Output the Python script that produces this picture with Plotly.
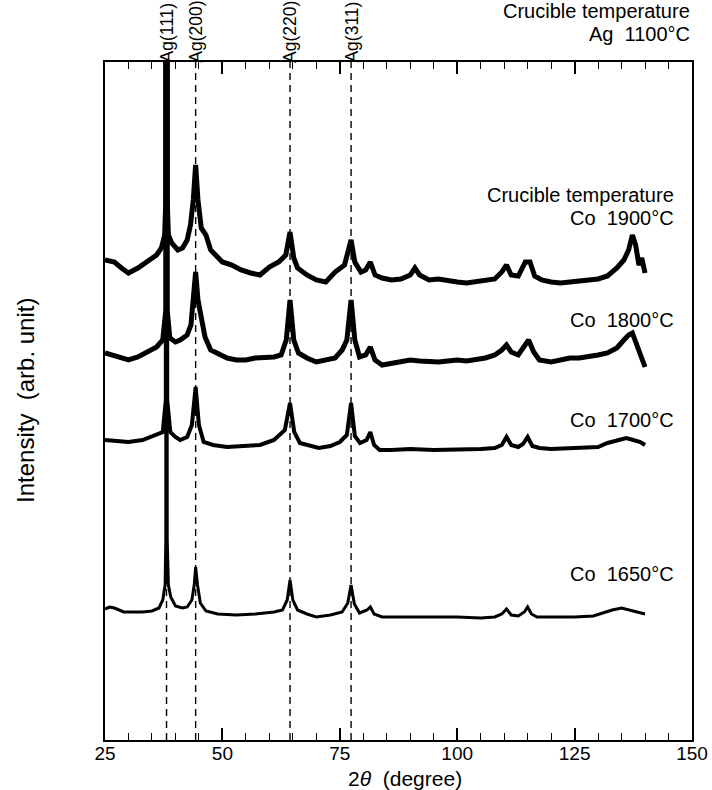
import plotly.graph_objects as go

# ---------------- data (2theta in degree, intensity in arb. unit as plotted) ----------------
x_1900 = [25, 27, 28.5, 30, 32, 34, 36, 37, 37.7, 37.95, 38.1, 38.25, 38.5, 39.2, 40.5, 41.5, 42.5, 43.2, 43.8,
          44.3, 44.8, 45.5, 46.5, 47.5, 49, 50, 52, 54, 56, 58, 60, 62, 63.5, 64.4, 65.2, 66, 68, 70, 72, 74,
          76, 77.4, 78.2, 79.5, 80.5, 81.5, 82.5, 84, 86, 88, 90, 91, 92, 94, 96, 98, 100, 102, 104, 106, 108,
          109.5, 110.5, 111.5, 113, 114.5, 115.5, 116.5, 118, 120, 122, 124, 126, 128, 130, 132, 134, 135.5,
          136.5, 137.3, 138, 138.7, 139.3, 140]
i_1900 = [480, 478, 472, 467, 472, 478, 485, 492, 505, 540, 5000, 540, 505, 497, 490, 492, 500, 515, 540,
          575, 540, 512, 505, 490, 482, 478, 475, 470, 467, 465, 473, 478, 485, 508, 482, 472, 465, 460, 458, 468,
          475, 500, 478, 468, 470, 478, 465, 462, 460, 461, 465, 472, 465, 460, 461, 459, 458, 457, 458, 459, 461,
          468, 475, 465, 464, 478, 478, 464, 460, 458, 457, 458, 459, 460, 461, 464, 472, 480,
          490, 505, 495, 475, 482, 467]

x_1800 = [25, 27, 30, 32, 34, 36, 37.3, 37.95, 38.1, 38.25, 38.8, 40, 41, 42.5, 43.3, 43.9, 44.3, 44.8, 45.5,
          46.3, 47.5, 49, 51, 53, 55, 57, 59, 61, 62.5, 63.6, 64.4, 65.2, 66.2, 68, 70, 72, 74, 75.5, 76.5,
          77.4, 78.2, 79.2, 80.5, 81.5, 82.5, 84, 86, 88, 90, 92, 94, 96, 98, 100, 102, 104, 106, 108, 109.5,
          110.5, 111.5, 113, 114.3, 115.2, 116.3, 117.5, 120, 122, 124, 126, 128, 130, 132, 134, 135.5, 136.5,
          137.3, 138.2, 139, 139.5, 140]
i_1800 = [387, 384, 380, 383, 388, 393, 400, 430, 5000, 430, 402, 398, 400, 405, 415, 445, 468, 440, 420,
          403, 390, 387, 382, 380, 380, 382, 382, 383, 385, 400, 440, 400, 387, 382, 378, 380, 382, 390, 400,
          440, 400, 383, 385, 393, 380, 375, 377, 378, 380, 379, 378, 378, 379, 380, 379, 380, 382, 385, 390,
          395, 388, 385, 395, 400, 388, 380, 378, 380, 382, 382, 383, 385, 387, 392, 400, 405,
          407, 395, 388, 380, 373]

x_1700 = [25, 27, 30, 33, 36, 37.3, 37.95, 38.1, 38.25, 38.9, 40, 41, 42.5, 43.5, 44.3, 45, 46, 48, 51, 55, 58,
          61, 63.3, 64.4, 65.3, 66.5, 69, 70.5, 73, 75, 76.5, 77.4, 78.2, 79.3, 80.7, 81.5, 82.3, 83.5, 86, 90,
          95, 100, 105, 108, 109.5, 110.5, 111.5, 113, 114, 115, 116, 117.5, 120, 125, 128, 130, 132, 134, 136,
          137.5, 139, 140]
i_1700 = [300, 299, 298, 300, 305, 308, 340, 5000, 340, 308, 303, 300, 303, 315, 353, 315, 298, 295, 293, 294, 295,
          300, 310, 337, 308, 297, 294, 292, 294, 298, 305, 337, 304, 297, 300, 308, 295, 290, 290, 291,
          290, 290, 291, 292, 295, 303, 295, 293, 296, 303, 294, 292, 291, 292, 293, 293, 297, 300, 302,
          300, 298, 295]

x_1650 = [25, 26, 27, 29, 33, 35, 36.5, 37.3, 37.8, 37.95, 38.1, 38.25, 38.5, 39, 40, 41.5, 42.5, 43.5, 44.0,
          44.3, 44.7, 45.3, 46.5, 49, 53, 57, 61, 62.8, 63.8, 64.4, 65, 66, 68, 70, 73, 75.5, 76.7, 77.4, 78.1,
          79.2, 80.8, 81.5, 82.3, 84, 90, 95, 100, 105, 108, 109.5, 110.5, 111.5, 113, 114.3, 115, 115.8, 117,
          120, 125, 129, 131, 133, 135, 136.5, 138, 140]
i_1650 = [131, 133, 132, 128, 128, 129, 132, 140, 155, 200, 5000, 200, 155, 143, 134, 132, 133, 140, 155,
          173, 155, 137, 129, 126, 125, 126, 128, 130, 140, 160, 140, 130, 126, 123, 125, 128, 137, 155, 136,
          127, 130, 133, 126, 123, 123, 123, 123, 122, 123, 126, 131, 125, 124, 128, 133, 126, 123,
          123, 123, 124, 127, 130, 132, 130, 128, 126]

ag_peaks = [38.1, 44.3, 64.4, 77.4]
ag_labels = ["Ag(111)", "Ag(200)", "Ag(220)", "Ag(311)"]
x_ticks = [25, 50, 75, 100, 125, 150]
series_labels = [["Co  1650°C"], ["Co  1700°C"], ["Co  1800°C"], ["Crucible temperature", "Co  1900°C"]]
label_levels = [166, 320, 420, 534]

FONT = "Liberation Sans, Arial, Helvetica, sans-serif"
ANN = 20

fig = go.Figure()

for xs, ys, w in [(x_1900, i_1900, 5), (x_1800, i_1800, 5), (x_1700, i_1700, 4), (x_1650, i_1650, 3)]:
    fig.add_trace(go.Scatter(x=xs, y=ys, mode="lines", line=dict(color="black", width=w),
                             showlegend=False, hoverinfo="skip"))

# dashed reference lines for Ag peaks
for p in ag_peaks:
    fig.add_shape(type="line", x0=p, x1=p, y0=0, y1=1, xref="x", yref="paper",
                  line=dict(color="black", width=1.4, dash="7px,5px"), layer="below")

# Ag peak labels (rotated) above the frame
for p, lab in zip(ag_peaks, ag_labels):
    fig.add_annotation(x=p, y=1, xref="x", yref="paper", text=lab, textangle=-90,
                       showarrow=False, xanchor="center", yanchor="bottom", yshift=-2,
                       borderpad=0,
                       font=dict(family=FONT, size=17.5, color="black"))

# series labels (each line placed separately for tight line spacing)
for lines, lev in zip(series_labels, label_levels):
    n = len(lines)
    for k, txt in enumerate(lines):
        fig.add_annotation(x=146.5, y=lev, xref="x", yref="y", text=txt, showarrow=False,
                           xanchor="right", yanchor="middle", yshift=(n - 1 - k) * 23 - (n - 1) * 11.5,
                           font=dict(family=FONT, size=ANN, color="black"))

for k, txt in enumerate(["Crucible temperature", "Ag  1100°C"]):
    fig.add_annotation(x=1, y=1, xref="paper", yref="paper", text=txt, showarrow=False,
                       xanchor="right", yanchor="bottom", yshift=15 + (1 - k) * 23,
                       font=dict(family=FONT, size=ANN, color="black"))

# axis titles
fig.add_annotation(x=0.5, y=0, xref="paper", yref="paper", text="2<i>θ</i>  (degree)", showarrow=False,
                   xanchor="center", yanchor="middle", xshift=6, yshift=-38,
                   font=dict(family=FONT, size=21, color="black"))
fig.add_annotation(x=0, y=0.5, xref="paper", yref="paper", text="Intensity  (arb. unit)", showarrow=False,
                   textangle=-90, xanchor="center", yanchor="middle", xshift=-80,
                   font=dict(family=FONT, size=24, color="black"))

fig.update_layout(
    width=712, height=790,
    margin=dict(l=105, r=20, t=62, b=50, autoexpand=False),
    paper_bgcolor="white", plot_bgcolor="white",
    font=dict(family=FONT, size=19, color="black"),
)
fig.update_xaxes(range=[25, 150], tickvals=x_ticks, ticktext=[str(t) for t in x_ticks],
                 ticks="inside", ticklen=12, tickwidth=1.6, tickcolor="black",
                 minor=dict(dtick=5, tick0=25, ticks="inside", ticklen=7, tickwidth=1.3, tickcolor="black"),
                 showline=True, linecolor="black", linewidth=2, mirror="ticks",
                 showgrid=False, zeroline=False, ticklabelstandoff=-5, automargin=False,
                 tickfont=dict(family=FONT, size=19))
fig.update_yaxes(range=[0, 678], showticklabels=False, ticks="",
                 showline=True, linecolor="black", linewidth=2, mirror=True,
                 showgrid=False, zeroline=False, automargin=False)

fig.write_html("out.html")
